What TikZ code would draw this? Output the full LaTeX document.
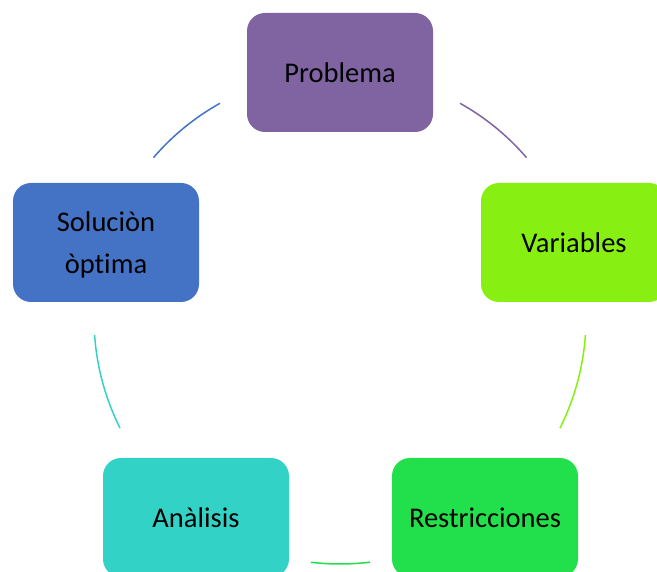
\documentclass[tikz,border=0pt]{standalone}
\usepackage{fontspec}
\setmainfont{Carlito}[Ligatures=CommonOff]
\definecolor{cpurple}{HTML}{8064A2}
\definecolor{cblue}{HTML}{4472C4}
\definecolor{clime}{HTML}{88EF12}
\definecolor{cgreen}{HTML}{22E04B}
\definecolor{cteal}{HTML}{33D2C7}
\tikzset{
  box/.style={rounded corners=18pt, minimum width=186pt, minimum height=119pt,
    inner sep=0pt, text=black, align=center,
    font=\fontsize{28.5}{42}\selectfont, text depth=0pt},
  link/.style={line width=1.5pt}
}
\begin{document}
\begin{tikzpicture}[x=1pt,y=-1pt]
\useasboundingbox (0,0) rectangle (657,572);
\clip (0,0) rectangle (657,572);
\coordinate (c) at (340,318);
\node[box, fill=cpurple] (prob) at (340,72.5) {Problema};
\node[box, fill=clime] (var) at (574,242.5) {Variables};
\node[box, fill=cgreen] (res) at (485,517.5) {Restricciones};
\node[box, fill=cteal] (ana) at (196,517.5) {Anàlisis};
\node[box, fill=cblue] (sol) at (106,242.5) {Soluciòn\\òptima};
\draw[link, cpurple] ([shift={(60.8:246pt)}]c) arc[start angle=60.8, end angle=40.7, radius=246pt];
\draw[link, clime] ([shift={(-4:246pt)}]c) arc[start angle=-4, end angle=-26.6, radius=246pt];
\draw[link, cgreen] ([shift={(-83:246pt)}]c) arc[start angle=-83, end angle=-96.8, radius=246pt];
\draw[link, cteal] ([shift={(206.6:246pt)}]c) arc[start angle=206.6, end angle=184, radius=246pt];
\draw[link, cblue] ([shift={(139.3:246pt)}]c) arc[start angle=139.3, end angle=119.2, radius=246pt];
\end{tikzpicture}
\end{document}
